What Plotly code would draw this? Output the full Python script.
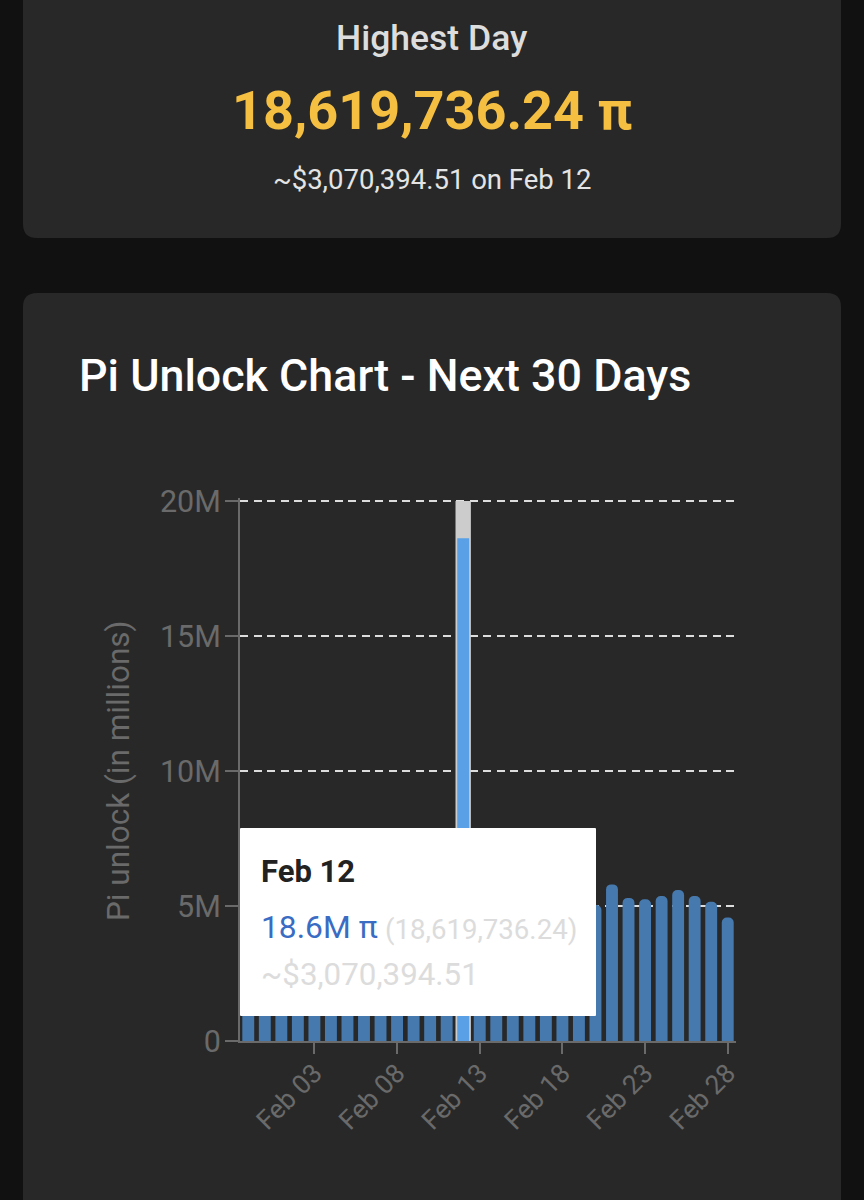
# -*- coding: utf-8 -*-
import plotly.graph_objects as go

days = ['Jan 30', 'Jan 31', 'Feb 01', 'Feb 02', 'Feb 03', 'Feb 04', 'Feb 05', 'Feb 06', 'Feb 07', 'Feb 08',
        'Feb 09', 'Feb 10', 'Feb 11', 'Feb 12', 'Feb 13', 'Feb 14', 'Feb 15', 'Feb 16', 'Feb 17', 'Feb 18',
        'Feb 19', 'Feb 20', 'Feb 21', 'Feb 22', 'Feb 23', 'Feb 24', 'Feb 25', 'Feb 26', 'Feb 27', 'Feb 28']
# Jan 30 - Feb 19 sit behind the tooltip, so those are estimates
unlock = [4.6, 4.8, 4.7, 5.0, 4.9, 5.1, 4.8, 5.2, 5.0, 4.7,
          4.9, 5.1, 5.3, 18.62, 5.2, 5.0, 4.8, 5.1, 4.9, 5.2,
          5.0, 5.04, 5.8, 5.3, 5.25, 5.37, 5.59, 5.37, 5.16, 4.57]
picked_day = ['Feb 12']
picked_band = [20]
y_ticks = [0, 5, 10, 15, 20]
y_labels = ['0', '5M', '10M', '15M', '20M']
x_ticks = ['Feb 03', 'Feb 08', 'Feb 13', 'Feb 18', 'Feb 23', 'Feb 28']

W, H = 864, 1200
FONT = 'Roboto'
GREY = '#6a6a6a'


def rounded(x0, y0, x1, y1, r):
    # pixel box from the top left, turned into a paper path with round corners
    fx = lambda v: v / W
    fy = lambda v: 1 - v / H
    return (f'M {fx(x0 + r)} {fy(y0)} L {fx(x1 - r)} {fy(y0)} Q {fx(x1)} {fy(y0)} {fx(x1)} {fy(y0 + r)} '
            f'L {fx(x1)} {fy(y1 - r)} Q {fx(x1)} {fy(y1)} {fx(x1 - r)} {fy(y1)} '
            f'L {fx(x0 + r)} {fy(y1)} Q {fx(x0)} {fy(y1)} {fx(x0)} {fy(y1 - r)} '
            f'L {fx(x0)} {fy(y0 + r)} Q {fx(x0)} {fy(y0)} {fx(x0 + r)} {fy(y0)} Z')


def card(x0, y0, x1, y1, r, color, layer='below'):
    return dict(type='path', xref='paper', yref='paper', path=rounded(x0, y0, x1, y1, r),
                fillcolor=color, line=dict(width=0), layer=layer)


def text(x, y, s, size, color, anchor='left', weight='normal'):
    return dict(xref='paper', yref='paper', x=x / W, y=1 - y / H, text=s, showarrow=False,
                xanchor=anchor, yanchor='middle', borderpad=0, borderwidth=0,
                font=dict(family=FONT, size=size, color=color, weight=weight))


bar_colors = ['#5aa0e6' if d in picked_day else '#4679ad' for d in days]

band = go.Bar(x=picked_day, y=picked_band, width=0.93, marker=dict(color='#cccccc', line=dict(width=0)))
bars = go.Bar(x=days, y=unlock, width=0.72,
              marker=dict(color=bar_colors, line=dict(width=0), cornerradius='50%'))

fig = go.Figure(data=[band, bars])
fig.update_layout(
    width=W, height=H, margin=dict(l=0, r=0, t=0, b=0, pad=0),
    paper_bgcolor='#111111', plot_bgcolor='rgba(0,0,0,0)',
    barmode='overlay', showlegend=False, font=dict(family=FONT),
    shapes=[
        card(23, -30, 841, 238, 14, '#282828'),
        card(23, 293, 841, 1240, 14, '#282828'),
        card(240, 828, 596, 1016, 1, '#ffffff', layer='above'),
    ],
    annotations=[
        text(432, 38, 'Highest Day', 35.5, '#dddddd', 'center', 500),
        text(432, 110, '18,619,736.24 π', 54, '#f5bf42', 'center', 'bold'),
        text(432, 179, '~$3,070,394.51 on Feb 12', 27.5, '#e4e4e4', 'center'),
        text(79, 375, 'Pi Unlock Chart - Next 30 Days', 44.8, '#ffffff', 'left', 500),
        text(118, 771, 'Pi unlock (in millions)', 31.5, GREY, 'center') | dict(textangle=-90),
        text(261, 871, 'Feb 12', 31, '#222222', 'left', 'bold'),
        text(261, 927, '18.6M π', 31.8, '#3a6cc4', 'left'),
        text(385, 929, '(18,619,736.24)', 27.6, '#dcdcdc', 'left'),
        text(261, 974, '~$3,070,394.51', 31.3, '#dcdcdc', 'left'),
    ],
)
fig.update_xaxes(
    domain=[240 / W, 736 / W], type='category', categoryorder='array', categoryarray=days, automargin=False,
    range=[-0.5, 29.5], tickmode='array', tickvals=x_ticks, ticktext=x_ticks, tickangle=-45,
    tickfont=dict(family=FONT, size=26.5, color=GREY), ticks='outside', ticklen=11, tickwidth=2, tickcolor=GREY,
    ticklabelstandoff=-7, showline=True, linecolor=GREY, linewidth=2, showgrid=False, zeroline=False,
)
# top of the range runs a hair past 20 so the 20M gridline is not clipped
fig.update_yaxes(
    domain=[1 - 1041 / H, 1 - 498.3 / H], range=[0, 20.1], tickmode='array', tickvals=y_ticks, ticktext=y_labels,
    automargin=False, tickfont=dict(family=FONT, size=30.5, color=GREY), ticks='outside', ticklen=13, tickwidth=2,
    tickcolor=GREY, ticklabelstandoff=-2, showline=True, linecolor=GREY, linewidth=2, showgrid=True,
    gridcolor='#dddddd', gridwidth=2, griddash='8px,5.5px', zeroline=False,
)

fig.write_html('out.html', config=dict(displayModeBar=False),
               post_script="document.body.style.margin='0';document.body.style.background='#111111';")
